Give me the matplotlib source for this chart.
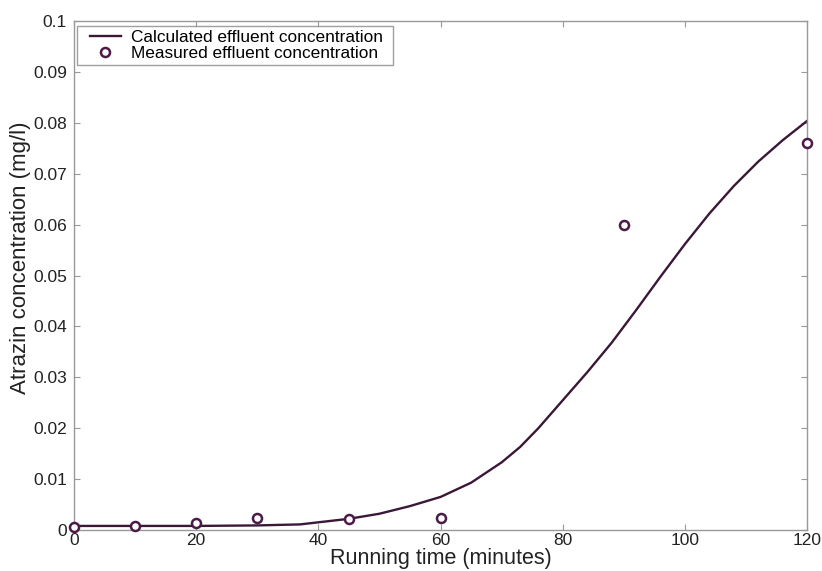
import matplotlib
matplotlib.use("Agg")
import matplotlib.pyplot as plt
from matplotlib.lines import Line2D
from matplotlib.legend_handler import HandlerLine2D

plt.rcParams['font.family'] = ['Liberation Sans', 'DejaVu Sans']

calc_t = [0, 10, 20, 30, 37, 45, 50, 55, 60, 65, 70, 73, 76, 80, 84, 88, 90, 92, 96, 100,
          104, 108, 112, 116, 120]
calc_c = [0.0008, 0.0008, 0.0008, 0.0009, 0.0011, 0.0022, 0.0032, 0.0047, 0.0065, 0.0093,
          0.0133, 0.0163, 0.0200, 0.0255, 0.0310, 0.0368, 0.0400, 0.0432, 0.0498, 0.0562,
          0.0622, 0.0676, 0.0724, 0.0766, 0.0804]
meas_t = [0, 10, 20, 30, 45, 60, 90, 120]
meas_c = [0.0005, 0.0008, 0.0014, 0.0024, 0.0022, 0.0024, 0.060, 0.076]

xticks = [0, 20, 40, 60, 80, 100, 120]
yticks = [0, 0.01, 0.02, 0.03, 0.04, 0.05, 0.06, 0.07, 0.08, 0.09, 0.1]
ylabels = ['0', '0.01', '0.02', '0.03', '0.04', '0.05', '0.06', '0.07', '0.08', '0.09', '0.1']

fig = plt.figure(figsize=(8.22, 5.71), dpi=100)
ax = fig.add_axes([0.090, 0.0718, 0.892, 0.8913])

line_col = '#3a1838'
ax.plot(calc_t, calc_c, color=line_col, lw=1.7, label='Calculated effluent concentration')
ax.plot(meas_t, meas_c, linestyle='none', marker='o', markersize=6.5, markerfacecolor='white',
        markeredgecolor='#4a1a48', markeredgewidth=1.8, label='Measured effluent concentration',
        clip_on=False, zorder=5)

ax.set_xlim(0, 120)
ax.set_ylim(0, 0.1)
ax.set_xticks(xticks)
ax.set_yticks(yticks)
ax.set_yticklabels(ylabels)
ax.tick_params(direction='in', length=4.5, color='#999999', labelsize=12.5, top=True, right=True,
               labelcolor='#222222')
ax.tick_params(axis='x', pad=2)
ax.tick_params(axis='y', pad=5)
for s in ax.spines.values():
    s.set_color('#999999')
    s.set_linewidth(1.0)

ax.set_xlabel('Running time (minutes)', fontsize=15.5, color='#222222')
ax.xaxis.set_label_coords(0.5, -0.036)
ax.set_ylabel('Atrazin concentration (mg/l)', fontsize=16, color='#222222')
ax.yaxis.set_label_coords(-0.058, 0.534)

leg = ax.legend(loc='upper left', bbox_to_anchor=(0.0048, 0.5, 0.430, 0.490), mode='expand',
                fontsize=12.4, frameon=True, fancybox=False, borderaxespad=0.0,
                handlelength=2.32, handletextpad=0.58, borderpad=0.2, labelspacing=0.1,
                handler_map={Line2D: HandlerLine2D(xpad=0.52)})
leg.get_frame().set_edgecolor('#888888')
leg.get_frame().set_linewidth(1.0)

fig.savefig('out.png', dpi=100)
